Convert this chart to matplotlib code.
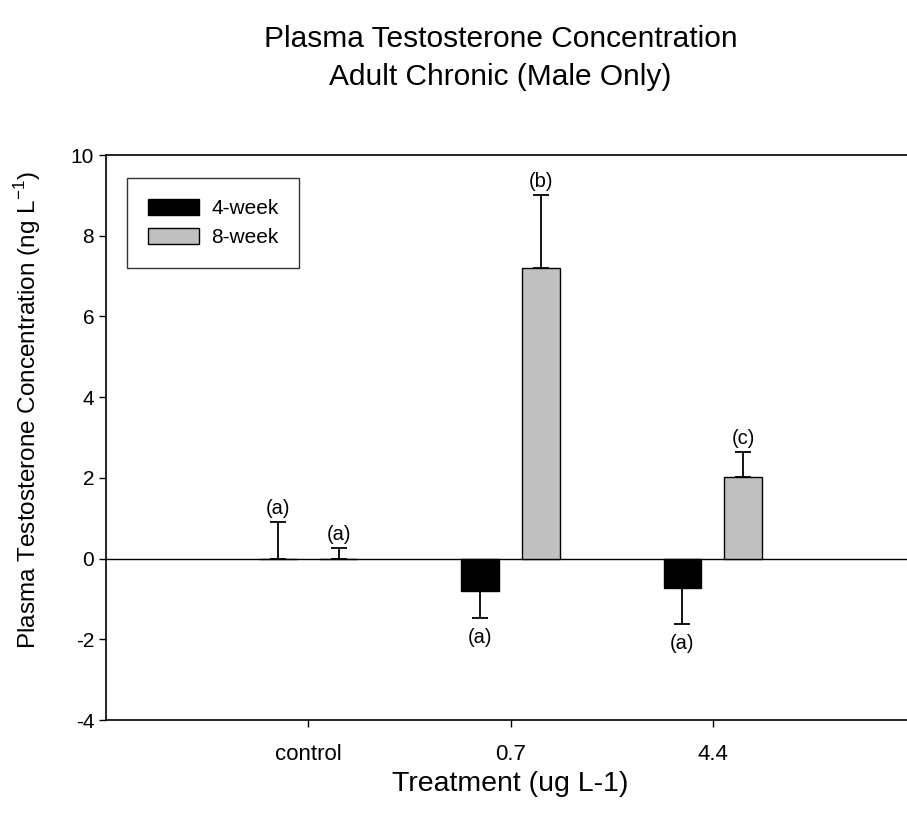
import numpy as np
import matplotlib.pyplot as plt

plt.rcParams['font.family'] = ['Liberation Sans', 'DejaVu Sans']
plt.rcParams['axes.unicode_minus'] = False

# treatment groups and mean testosterone (ng/L) with one-sided error
treatments = ['control', '0.7', '4.4']
week4 = [0.0, -0.80, -0.74]
week4_err = [0.90, 0.68, 0.88]
week8 = [0.0, 7.20, 2.03]
week8_err = [0.25, 1.80, 0.62]
letters4 = ['(a)', '(a)', '(a)']
letters8 = ['(a)', '(b)', '(c)']

x = np.arange(1, len(treatments) + 1)
offset = 0.15
width = 0.185

fig = plt.figure(figsize=(9.07, 8.18), dpi=100)
ax = fig.add_axes([0.1169, 0.1198, 0.8919, 0.6907])

def draw_group(pos, vals, errs, labels, color, name):
    ax.bar(pos, vals, width, color=color, edgecolor='black', linewidth=1.0,
           label=name, zorder=2)
    for xi, v, e, lab in zip(pos, vals, errs, labels):
        # error bar only on the side away from zero
        if v < 0:
            ax.errorbar(xi, v, yerr=[[e], [0]], fmt='none', ecolor='black',
                        elinewidth=1.3, capsize=5.8, capthick=1.3, zorder=3)
            ax.text(xi, v - e - 0.25, lab, ha='center', va='top', fontsize=14.5)
        else:
            ax.errorbar(xi, v, yerr=[[0], [e]], fmt='none', ecolor='black',
                        elinewidth=1.3, capsize=5.8, capthick=1.3, zorder=3)
            ax.text(xi, v + e + 0.1, lab, ha='center', va='bottom', fontsize=14.5)

draw_group(x - offset, week4, week4_err, letters4, 'black', '4-week')
draw_group(x + offset, week8, week8_err, letters8, '#c0c0c0', '8-week')

ax.axhline(0, color='black', linewidth=1.0, zorder=1)

ax.set_xlim(0, 4)
ax.set_ylim(-4, 10)
ax.set_xticks(x)
ax.set_xticklabels(treatments, fontsize=16)
ax.set_yticks(np.arange(-4, 11, 2))
ax.tick_params(axis='y', labelsize=15)
ax.tick_params(axis='both', direction='out', length=5, width=1)
ax.tick_params(axis='x', pad=12)
for s in ax.spines.values():
    s.set_linewidth(1.2)

ax.set_xlabel('Treatment (ug L-1)', fontsize=20.5)
ax.xaxis.set_label_coords(0.5, -0.09)
ax.set_ylabel('Plasma Testosterone Concentration (ng L$^{\\mathregular{-1}}$)',
              fontsize=17.5)
ax.yaxis.set_label_coords(-0.078, 0.549)

leg = ax.legend(loc='upper left', bbox_to_anchor=(0.026, 0.959),
                borderaxespad=0, fontsize=15,
                frameon=True, fancybox=False, edgecolor='black',
                handlelength=2.45, handleheight=0.82, handletextpad=0.58,
                borderpad=1.0, labelspacing=0.45)
leg.get_frame().set_linewidth(1.0)

fig.text(0.552, 0.929, 'Plasma Testosterone Concentration\nAdult Chronic (Male Only)',
         ha='center', va='center', fontsize=21.5, linespacing=1.45)

fig.savefig('out.png', dpi=100)
